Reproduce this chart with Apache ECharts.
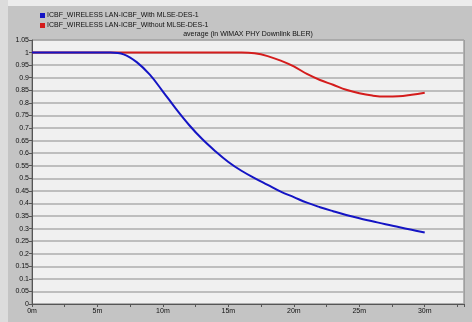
<!DOCTYPE html>
<html>
<head>
<meta charset="utf-8">
<script src="https://cdn.jsdelivr.net/npm/echarts@6/dist/echarts.min.js"></script>
<style>
  html, body { margin: 0; padding: 0; background: #c4c4c4; }
  #chart { width: 472px; height: 322px; }
</style>
</head>
<body>
<div id="chart"></div>
<script>
// time in minutes
var times = [0, 1, 2, 3, 4, 5, 6, 7, 8, 9, 10, 11, 12, 13, 14, 15, 16, 17, 18, 19, 20,
             21, 22, 23, 24, 25, 26, 27, 28, 29, 30];

var withMlse = [1, 1, 1, 1, 1, 1, 1, 0.993, 0.962, 0.912, 0.845, 0.776, 0.712, 0.656, 0.608,
                0.565, 0.53, 0.501, 0.474, 0.447, 0.425, 0.403, 0.385, 0.369, 0.354,
                0.341, 0.329, 0.317, 0.306, 0.295, 0.284];

var withoutMlse = [1, 1, 1, 1, 1, 1, 1, 1, 1, 1, 1, 1, 1, 1, 1, 1, 1, 0.997, 0.986, 0.968,
                   0.945, 0.915, 0.891, 0.872, 0.852, 0.838, 0.829, 0.825, 0.826, 0.832, 0.84];

var seriesNames = [
    'ICBF_WIRELESS LAN-ICBF_With MLSE-DES-1',
    'ICBF_WIRELESS LAN-ICBF_Without MLSE-DES-1'
];
var chartTitle = 'average (in WiMAX PHY Downlink BLER)';

function pairs(xs, ys) {
    return xs.map(function (x, i) { return [x, ys[i]]; });
}

var chart = echarts.init(document.getElementById('chart'));
var font = 'Liberation Sans, Arial, sans-serif';

chart.setOption({
    animation: false,
    backgroundColor: '#c4c4c4',
    graphic: [
        { type: 'rect', shape: { x: 0, y: 0, width: 472, height: 6 }, style: { fill: '#ececec' }, z: -1 },
        { type: 'rect', shape: { x: 0, y: 0, width: 8, height: 322 }, style: { fill: '#dcdcdc' }, z: -1 }
    ],
    title: {
        text: chartTitle,
        left: 248,
        top: 31,
        padding: 0,
        textAlign: 'center',
        textStyle: { fontSize: 7, fontWeight: 'normal', color: '#111', fontFamily: font }
    },
    legend: {
        orient: 'vertical',
        left: 40,
        top: 12,
        padding: 0,
        itemWidth: 5,
        itemHeight: 5,
        itemGap: 3,
        icon: 'rect',
        textStyle: { fontSize: 7, color: '#111', fontFamily: font, padding: [0, 0, 0, -3] },
        data: seriesNames
    },
    grid: {
        left: 32,
        right: 8,
        top: 40,
        bottom: 18,
        show: true,
        backgroundColor: '#f0f0f0',
        borderColor: '#7a7a7a',
        borderWidth: 1
    },
    xAxis: {
        type: 'value',
        min: 0,
        max: 33,
        interval: 5,
        axisLine: { lineStyle: { color: '#555' } },
        axisTick: { inside: false, length: 3, lineStyle: { color: '#555' } },
        minorTick: { show: true, splitNumber: 2, length: 3, lineStyle: { color: '#555' } },
        splitLine: { show: false },
        axisLabel: {
            fontSize: 7, color: '#111', fontFamily: font, margin: 4,
            showMaxLabel: false,
            formatter: function (v) { return v % 5 === 0 ? v + 'm' : ''; }
        }
    },
    yAxis: {
        type: 'value',
        min: 0,
        max: 1.05,
        interval: 0.05,
        axisLine: { show: true, lineStyle: { color: '#555' } },
        axisTick: { show: true, length: 3, lineStyle: { color: '#555' } },
        splitLine: { lineStyle: { color: '#acacac', width: 1.5 } },
        axisLabel: { fontSize: 7, color: '#111', fontFamily: font, margin: 3 }
    },
    series: [
        {
            name: seriesNames[0],
            type: 'line',
            data: pairs(times, withMlse),
            smooth: 0.4,
            showSymbol: false,
            color: '#1414c4',
            lineStyle: { width: 2 },
            z: 3
        },
        {
            name: seriesNames[1],
            type: 'line',
            data: pairs(times, withoutMlse),
            smooth: 0.4,
            showSymbol: false,
            color: '#d41c1c',
            lineStyle: { width: 2 },
            z: 2
        }
    ]
});
</script>
</body>
</html>
